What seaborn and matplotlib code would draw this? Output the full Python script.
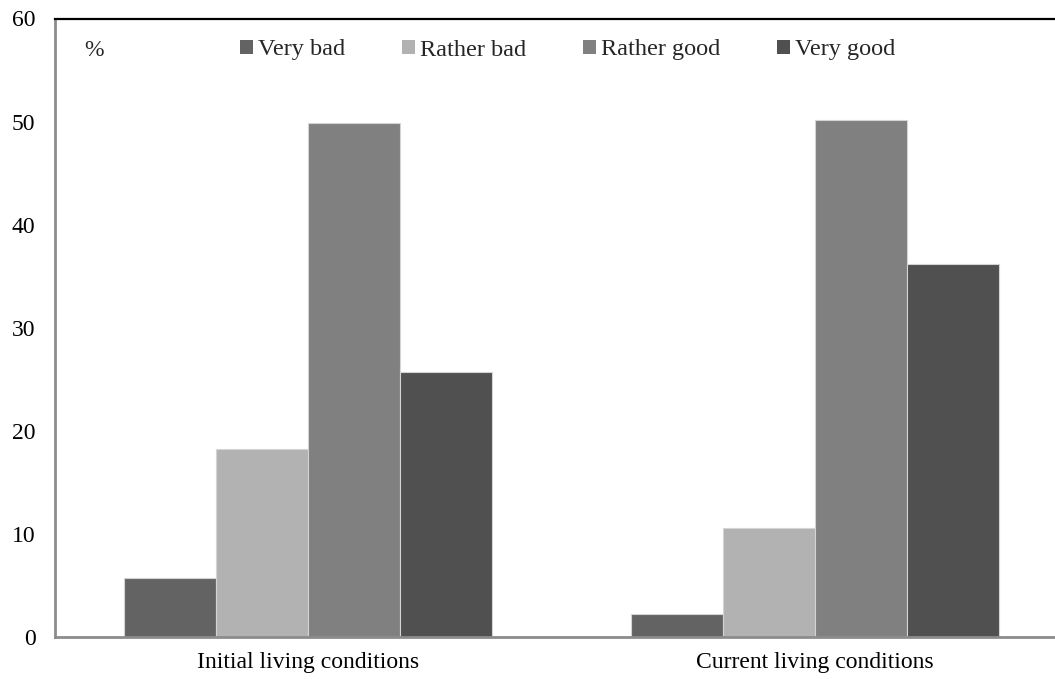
import matplotlib
matplotlib.use("Agg")
import matplotlib.pyplot as plt
import seaborn as sns
import pandas as pd
from matplotlib.patches import Patch

categories = ["Initial living conditions", "Current living conditions"]
series = ["Very bad", "Rather bad", "Rather good", "Very good"]
very_bad = [5.7, 2.2]
rather_bad = [18.2, 10.6]
rather_good = [49.9, 50.2]
very_good = [25.7, 36.2]
colors = ["#636363", "#b2b2b2", "#808080", "#505050"]
yticks = [0, 10, 20, 30, 40, 50, 60]

rows = []
for name, vals in zip(series, [very_bad, rather_bad, rather_good, very_good]):
    for cat, v in zip(categories, vals):
        rows.append({"Category": cat, "Series": name, "Value": v})
df = pd.DataFrame(rows)

sns.set_theme(style="white")
plt.rcParams["font.family"] = ["Liberation Serif", "DejaVu Serif"]

fig = plt.figure(figsize=(10.55, 6.79), dpi=100)
ax = fig.add_axes([55 / 1055, 42 / 679, 1013.5 / 1055, 618.5 / 679])

sns.barplot(data=df, x="Category", y="Value", hue="Series", order=categories,
            hue_order=series, palette=colors, width=0.726, gap=0,
            edgecolor="#d4d4d4", linewidth=0.8, saturation=1,
            legend=False, ax=ax)

ax.set_xlim(-0.5, 1.5)
ax.set_ylim(0, 60)
ax.set_yticks(yticks)
ax.set_yticklabels([str(t) for t in yticks])
ax.set_xlabel("")
ax.set_ylabel("")
ax.tick_params(axis="y", length=0, pad=14, labelsize=17, colors="black")
ax.tick_params(axis="x", length=0, pad=11, labelsize=17, colors="black")

for side in ["left", "bottom"]:
    ax.spines[side].set_color("#8c8c8c")
    ax.spines[side].set_linewidth(2)
ax.spines["top"].set_color("black")
ax.spines["top"].set_linewidth(1.6)
ax.spines["right"].set_visible(False)

fig.text(84 / 1055, 1 - 50 / 679, "%", fontsize=17, va="center", ha="left")

handles = [Patch(facecolor=c, edgecolor="none", label=s) for c, s in zip(colors, series)]
fig.legend(handles=handles, loc="center left",
           bbox_to_anchor=(240 / 1055, 1 - 50 / 679), ncol=4, frameon=False,
           fontsize=17.5, handlelength=0.53, handleheight=0.53,
           handletextpad=0.2, columnspacing=2.35, borderpad=0, borderaxespad=0)

fig.savefig("out.png", dpi=100)
